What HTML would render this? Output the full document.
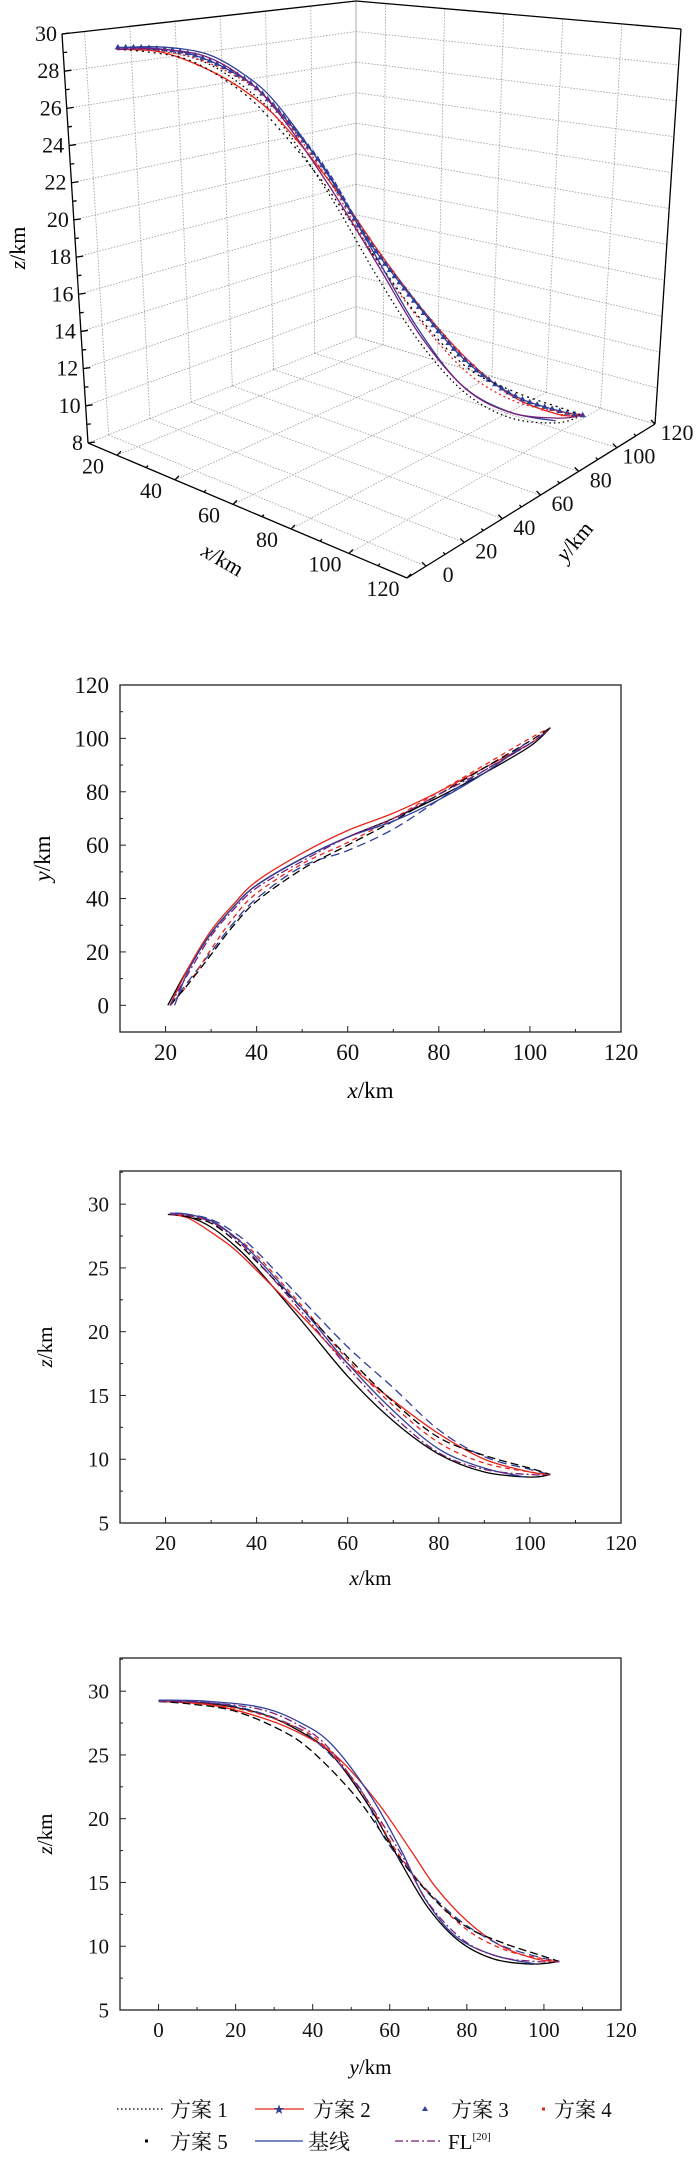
<!DOCTYPE html>
<html><head><meta charset="utf-8">
<style>
html,body{margin:0;padding:0;background:#fff;}
svg{display:block;font-family:"Liberation Serif","Noto Serif CJK SC",serif;}
</style></head>
<body>
<svg id="fig" width="700" height="2159" viewBox="0 0 700 2159" xmlns="http://www.w3.org/2000/svg">
<g id="g3d"></g>
<g id="gxy"></g>
<g id="gxz"></g>
<g id="gyz"></g>
<g id="legend"></g>
</svg>
<script>
// ---- data ----
const seriesNames = ["方案 1","方案 2","方案 3","方案 4","方案 5","基线","FL"];
const s1x = [20.5,25,30,35,40,50,60,70,80,90,100,104.5];
const s1y = [0,14,27,37,45,55,63,70,78,87,97,104];
const s1z = [29.2,29.0,28.2,26.8,25.0,20.8,16.5,13.0,10.4,9.0,8.6,8.8];
const s2x = [21,25,30,35,40,50,60,70,80,90,100,104.5];
const s2y = [0,14,28,38,46.5,57,65.5,72,80,89,98,104];
const s2z = [29.2,28.9,27.8,26.5,24.8,21.2,17.5,14.6,12.0,10.0,9.0,8.8];
const s3x = [21,25,30,35,40,50,60,70,80,90,100,104.5];
const s3y = [0,9,20,31,40,52,58,66,77,88,98,104];
const s3z = [29.3,29.2,28.8,27.8,26.3,22.5,18.8,15.6,12.3,10.2,9.2,8.8];
const s4x = [21,25,30,35,40,50,60,70,80,90,100,104.5];
const s4y = [0,8,21,33,42,53,61,70,80,90,100,104];
const s4z = [29.2,29.1,28.6,27.5,26.0,22.0,17.8,14.2,11.3,9.7,9.0,8.8];
const s5x = [21,25,30,35,40,50,60,70,80,90,100,104.5];
const s5y = [0,8,19,30,39,51,60,69,79,89,99,104];
const s5z = [29.2,29.0,28.5,27.2,25.5,21.8,18.0,14.5,11.7,10.3,9.3,8.8];
const s6x = [22,25,30,35,40,50,60,70,80,90,99];
const s6y = [0,13,27,37,45,55,63,69,77,87,98];
const s6z = [29.3,29.2,28.7,27.5,25.8,21.8,17.5,13.8,10.8,9.3,8.6];
const s7x = [21,25,30,35,40,50,60,70,80,90,100,104.5];
const s7y = [0,12,26,36,44,54,63,70,79,88,98,104];
const s7z = [29.2,29.1,28.6,27.4,25.6,21.5,17.2,13.4,10.5,9.2,8.8,8.8];
const xTicks = [20,40,60,80,100,120];
const yTicks3d = [0,20,40,60,80,100,120];
const zTicks3d = [8,10,12,14,16,18,20,22,24,26,28,30];
const yTicksXY = [0,20,40,60,80,100,120];
const zTicks2d = [5,10,15,20,25,30];
const yTicksYZ = [0,20,40,60,80,100,120];

const S = [
 {x:s1x,y:s1y,z:s1z,c:"#000",w:1.3,d3:"1.5 3",d2:"",name:"series-1"},
 {x:s2x,y:s2y,z:s2z,c:"#e8251c",w:1.3,d3:"",d2:"",name:"series-2"},
 {x:s3x,y:s3y,z:s3z,c:"#2f3f9a",w:1.3,d3:"",d2:"9 5",name:"series-3"},
 {x:s4x,y:s4y,z:s4z,c:"#e8251c",w:1.3,d3:"2 3",d2:"5 4",name:"series-4"},
 {x:s5x,y:s5y,z:s5z,c:"#000",w:1.3,d3:"2 4",d2:"8 4",name:"series-5"},
 {x:s6x,y:s6y,z:s6z,c:"#2f3f9a",w:1.3,d3:"",d2:"",name:"baseline"},
 {x:s7x,y:s7y,z:s7z,c:"#7b1e7a",w:1.3,d3:"",d2:"8 3 2 3",name:"fl-20"}
];
const NS="http://www.w3.org/2000/svg";
function el(tag,attrs,parent){const e=document.createElementNS(NS,tag);for(const k in attrs)e.setAttribute(k,attrs[k]);parent.appendChild(e);return e;}
function spline(pts){
 let d="M"+pts[0][0].toFixed(2)+","+pts[0][1].toFixed(2);
 for(let i=0;i<pts.length-1;i++){
  const p0=pts[Math.max(i-1,0)],p1=pts[i],p2=pts[i+1],p3=pts[Math.min(i+2,pts.length-1)];
  const c1=[p1[0]+(p2[0]-p0[0])/6,p1[1]+(p2[1]-p0[1])/6],c2=[p2[0]-(p3[0]-p1[0])/6,p2[1]-(p3[1]-p1[1])/6];
  d+=" C"+c1.map(v=>v.toFixed(2))+" "+c2.map(v=>v.toFixed(2))+" "+p2.map(v=>v.toFixed(2));
 }
 return d;
}

// ---- 3D chart ----
(function(){
 const g=document.getElementById("g3d");
 const A=[88,443],B=[407,578],C=[655,424],D=[356,337];
 const At=[62,34],Bt=[387,62],Ct=[681,29],Dt=[356,1];
 function P(x,y,z){
  const u=(x-10)/110,v=(y+10)/130,t=(z-8)/22;
  const wA=(1-u)*(1-v),wB=u*(1-v),wC=u*v,wD=(1-u)*v;
  const f=[A[0]*wA+B[0]*wB+C[0]*wC+D[0]*wD,A[1]*wA+B[1]*wB+C[1]*wC+D[1]*wD];
  const tp=[At[0]*wA+Bt[0]*wB+Ct[0]*wC+Dt[0]*wD,At[1]*wA+Bt[1]*wB+Ct[1]*wC+Dt[1]*wD];
  return [f[0]+(tp[0]-f[0])*t,f[1]+(tp[1]-f[1])*t];
 }
 const grid=el("g",{stroke:"#9a9a9a","stroke-width":0.8,"stroke-dasharray":"1.5 1.5",fill:"none"},g);
 
 
 function ln(p,q,par){el("line",{x1:p[0],y1:p[1],x2:q[0],y2:q[1]},par);}
 zTicks3d.forEach(z=>{ln(P(10,-10,z),P(10,120,z),grid);ln(P(10,120,z),P(120,120,z),grid);});
 yTicks3d.forEach(y=>{ln(P(10,y,8),P(10,y,30),grid);ln(P(10,y,8),P(120,y,8),grid);});
 xTicks.forEach(x=>{ln(P(x,120,8),P(x,120,30),grid);ln(P(x,-10,8),P(x,120,8),grid);});
 el("line",{x1:D[0],y1:D[1],x2:Dt[0],y2:Dt[1],stroke:"#aaa","stroke-width":1},g);
 const ax=el("g",{stroke:"#000","stroke-width":1.3,fill:"none"},g);
 
 
 [[A,At],[At,Dt],[Dt,Ct],[Ct,C],[A,B],[B,C]].forEach(s=>ln(s[0],s[1],ax));
 for(let z=8;z<=30;z+=1){const p=P(10,-10,z);el("line",{x1:p[0],y1:p[1],x2:p[0]+(z%2?4:7),y2:p[1]+(z%2?-0.5:-1)},ax);}
 for(let x=20;x<=120;x+=10){const p=P(x,-10,8);el("line",{x1:p[0],y1:p[1],x2:p[0]+(x%20?2:4),y2:p[1]-(x%20?2:4)},ax);}
 for(let y=0;y<=120;y+=10){const p=P(120,y,8);el("line",{x1:p[0],y1:p[1],x2:p[0]-(y%20?2:4),y2:p[1]-(y%20?2:4)},ax);}
 const tl=el("g",{"font-size":22,fill:"#111"},g);
 
 
 zTicks3d.forEach(z=>{const p=P(10,-10,z);const t=el("text",{x:p[0]-5,y:p[1]+7,"text-anchor":"end"},tl);t.textContent=z;});
 xTicks.forEach(x=>{const p=P(x,-10,8);const t=el("text",{x:p[0]-24,y:p[1]+18,"text-anchor":"middle"},tl);t.textContent=x;});
 yTicks3d.forEach(y=>{const p=P(120,y,8);const t=el("text",{x:p[0]+22,y:p[1]+16,"text-anchor":"middle"},tl);t.textContent=y;});
 let t=el("text",{x:0,y:0,"font-size":22,transform:"translate(25,248) rotate(-90)","text-anchor":"middle"},g);
 t.innerHTML='<tspan font-style="italic">z</tspan>/km';
 
 
 t=el("text",{x:0,y:0,"font-size":22,transform:"translate(219,566) rotate(30)","text-anchor":"middle"},g);
 t.innerHTML='<tspan font-style="italic">x</tspan>/km';
 
 
 t=el("text",{x:0,y:0,"font-size":22,transform:"translate(580,546) rotate(-50)","text-anchor":"middle"},g);
 t.innerHTML='<tspan font-style="italic">y</tspan>/km';
 
 
 S.forEach((s,i)=>{
  const pts=s.x.map((x,k)=>P(x,s.y[k],s.z[k]));
  const p=el("path",{d:spline(pts),fill:"none",stroke:s.c,"stroke-width":s.w,"stroke-dasharray":s.d3},g);
  
  
  if(i===2||i===1){
   const L=p.getTotalLength(),n=i===2?80:30;
   for(let k=0;k<=n;k++){const q=p.getPointAtLength(L*k/n);
    const m=i===2?el("path",{d:`M${q.x},${q.y-3.5} l3.2,5.5 h-6.4z`,fill:s.c},g):el("circle",{cx:q.x,cy:q.y,r:1.2,fill:s.c},g);
    
    }
  }
 });
})();

// ---- 2D charts ----
function chart2d(gid,box,xd,yd,xt,yt,xk,yk,xlab,ylab,fs,tickY,xlabY,ylabX){
 const g=document.getElementById(gid);
 const sx=v=>box.l+(v-xd[0])/(xd[1]-xd[0])*(box.r-box.l);
 const sy=v=>box.b-(v-yd[0])/(yd[1]-yd[0])*(box.b-box.t);
 const cp="clip-"+gid;
 const defs=el("defs",{},g);const c=el("clipPath",{id:cp},defs);el("rect",{x:box.l,y:box.t,width:box.r-box.l,height:box.b-box.t},c);
 const lines=el("g",{"clip-path":`url(#${cp})`},g);
 S.forEach(s=>{
  const pts=s[xk].map((v,k)=>[sx(v),sy(s[yk][k])]);
  const p=el("path",{d:spline(pts),fill:"none",stroke:s.c,"stroke-width":s.w,"stroke-dasharray":s.d2},lines);
  
  
 });
 const fr=el("rect",{x:box.l,y:box.t,width:box.r-box.l,height:box.b-box.t,fill:"none",stroke:"#222","stroke-width":1.3},g);
 
 
 const tk=el("g",{stroke:"#222","stroke-width":1},g);
 const xs=xt[1]-xt[0];
 for(let v=xt[0]-xs;v<=xd[1];v+=xs/2){if(v<xd[0])continue;const X=sx(v);el("line",{x1:X,y1:box.b,x2:X,y2:box.b-(Math.abs((v-xt[0])%xs)<1e-6?6:3)},tk);}
 const ys=yt[1]-yt[0];
 for(let v=yt[0]-ys;v<=yd[1];v+=ys/2){if(v<yd[0])continue;const Y=sy(v);el("line",{x1:box.l,y1:Y,x2:box.l+(Math.abs((v-yt[0])%ys)<1e-6?6:3),y2:Y},tk);}
 const tl=el("g",{"font-size":fs,fill:"#111"},g);
 
 
 xt.forEach(v=>{const t=el("text",{x:sx(v),y:tickY,"text-anchor":"middle"},tl);t.textContent=v;});
 yt.forEach(v=>{if(v>yd[1])return;const t=el("text",{x:box.l-11,y:sy(v)+fs*0.35,"text-anchor":"end"},tl);t.textContent=v;});
 let t=el("text",{x:(box.l+box.r)/2,y:xlabY,"font-size":fs,"text-anchor":"middle"},g);
 t.innerHTML=`<tspan font-style="italic">${xlab}</tspan>/km`;
 
 
 t=el("text",{x:0,y:0,"font-size":fs,transform:`translate(${ylabX},${(box.t+box.b)/2}) rotate(-90)`,"text-anchor":"middle"},g);
 t.innerHTML=`<tspan font-style="italic">${ylab}</tspan>/km`;
 
 
}
chart2d("gxy",{l:120,r:621,t:685,b:1032},[10,120],[-10,120],xTicks,yTicksXY,"x","y","x","y",23,1060,1098,50);
chart2d("gxz",{l:120,r:621,t:1171,b:1523},[10,120],[5,32.6],xTicks,zTicks2d,"x","z","x","z",21,1550,1585,52);
chart2d("gyz",{l:120,r:621,t:1658,b:2010},[-10,120],[5,32.6],yTicksYZ,zTicks2d,"y","z","y","z",21,2037,2074,52);

// ---- legend ----
(function(){
 const g=document.getElementById("legend");
 const items=[
  {x:117,y:2109,t:"方案 1",s:0,type:"line"},{x:255,y:2109,t:"方案 2",s:1,type:"star"},
  {x:405,y:2109,t:"方案 3",s:2,type:"tri"},{x:535,y:2109,t:"方案 4",s:3,type:"dot"},
  {x:117,y:2141,t:"方案 5",s:4,type:"dot"},{x:255,y:2141,t:"基线",s:5,type:"line"},
  {x:395,y:2141,t:"FL",s:6,type:"line"}];
 items.forEach(it=>{
  const gi=el("g",{},g);
  
  
  const s=S[it.s];
  let tx;
  if(it.type==="line"){el("line",{x1:it.x,y1:it.y,x2:it.x+48,y2:it.y,stroke:s.c,"stroke-width":1.2,"stroke-dasharray":it.s===0?"1.5 2.5":s.d2},gi);tx=it.x+53;}
  else if(it.type==="star"){el("line",{x1:it.x,y1:it.y,x2:it.x+49,y2:it.y,stroke:s.c,"stroke-width":1.2},gi);el("text",{x:it.x+24,y:it.y+4,"font-size":11,fill:"#2f3f9a","text-anchor":"middle"},gi).textContent="★";tx=it.x+58;}
  else if(it.type==="tri"){el("path",{d:`M${it.x+20},${it.y-3} l3,5 h-6z`,fill:s.c},gi);tx=it.x+46;}
  else {el("rect",{x:it.x+(it.s===3?7:28),y:it.y-1.5,width:3,height:3,fill:s.c},gi);tx=it.x+(it.s===3?19:53);}
  const t=el("text",{x:tx,y:it.y+8,"font-size":21,fill:"#111"},gi);
  t.textContent=it.t;
  if(it.t==="FL"){el("tspan",{"font-size":11,dy:-9},t).textContent="[20]";}
 });
})();
</script>
</body></html>
